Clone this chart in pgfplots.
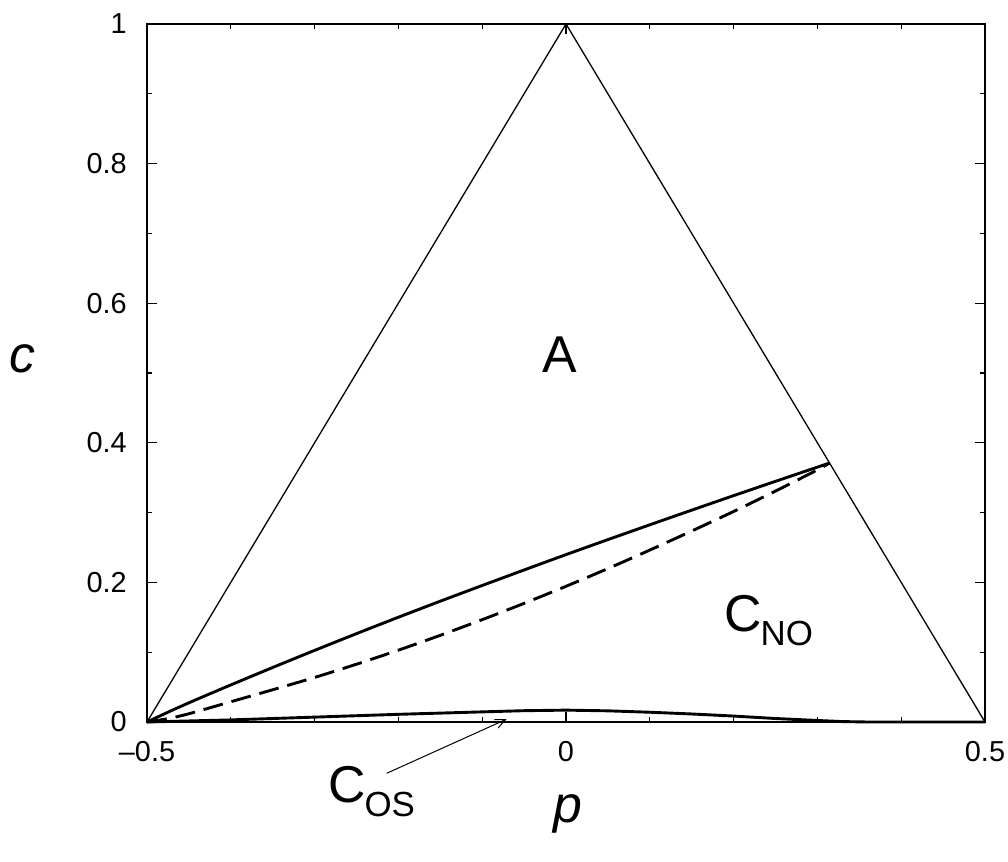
\documentclass[border=0pt]{standalone}
\usepackage{fontspec}
\setmainfont{Liberation Sans}
\usepackage{pgfplots}
\pgfplotsset{compat=1.18}
\usetikzlibrary{arrows.meta}

% phase label with lowered subscript
\newcommand{\phase}[2]{{\fontsize{52}{56}\selectfont #1\kern-1bp\raisebox{-14bp}{\fontsize{35}{38}\selectfont #2}}}

\begin{document}
\begin{tikzpicture}
\begin{axis}[
  at={(0,0)}, anchor=south west,
  scale only axis,
  width=838bp, height=698bp,
  xmin=-0.5, xmax=0.5,
  ymin=0, ymax=1,
  clip=false,
  axis line style={line width=1.3bp},
  tick style={line width=1.1bp, black},
  major tick length=10bp,
  minor tick length=5bp,
  tick align=inside,
  xtick pos=both, ytick pos=both,
  xtick={-0.5,0,0.5},
  xticklabels={\textendash0.5,0,0.5},
  minor xtick={-0.4,-0.3,-0.2,-0.1,0.1,0.2,0.3,0.4},
  ytick={0,0.2,0.4,0.6,0.8,1},
  yticklabels={0,0.2,0.4,0.6,0.8,1},
  minor ytick={0.1,0.3,0.5,0.7,0.9},
  ticklabel style={font=\fontsize{29}{32}\selectfont, inner sep=0pt},
  xticklabel style={yshift=-19bp},
  yticklabel style={xshift=-20bp},
  xlabel={\textit{p}},
  xlabel style={font=\fontsize{52}{56}\selectfont, at={(axis description cs:0.502,0)}, anchor=base, yshift=-100bp, inner sep=0pt},
  ylabel={\textit{c}},
  ylabel style={rotate=-90, font=\fontsize{52}{56}\selectfont, at={(axis description cs:0,0.52)}, anchor=center, xshift=-125bp, inner sep=0pt},
]
% outer triangle
\addplot[line width=1.3bp, line join=round] coordinates {(-0.5,0) (0,1) (0.5,0)};

% solid boundary A / C_NO
\addplot[line width=2.9bp, smooth, tension=0.4] table {
-0.5 0
-0.47 0.0168
-0.44 0.0327
-0.4 0.0531
-0.35 0.0781
-0.3 0.1026
-0.25 0.1266
-0.2 0.1501
-0.15 0.1731
-0.1 0.1956
-0.05 0.2178
0 0.2398
0.05 0.2613
0.1 0.2825
0.15 0.3035
0.2 0.3243
0.25 0.3448
0.3 0.3651
0.3145 0.371
};

% dashed line
\addplot[line width=2.9bp, smooth, tension=0.4, dash pattern=on 20bp off 9bp] table {
-0.5 0
-0.475 0.0048
-0.45 0.0118
-0.4 0.029
-0.35 0.0462
-0.3 0.0638
-0.25 0.0828
-0.2 0.1029
-0.15 0.1242
-0.1 0.1466
-0.05 0.17
0 0.1944
0.05 0.2198
0.1 0.2463
0.15 0.2736
0.2 0.3016
0.25 0.3308
0.3 0.3612
0.3145 0.371
};

% C_OS boundary
\addplot[line width=2.9bp] table {
-0.5 0
-0.45 0.0015
-0.4 0.003
-0.3 0.007
-0.2 0.011
-0.1 0.0145
-0.05 0.0162
0 0.017
0.05 0.016
0.1 0.014
0.15 0.0115
0.2 0.0085
0.25 0.005
0.3 0.0022
0.33 0.0006
0.36 0
0.5 0
};

\node[anchor=base, inner sep=0pt, font=\fontsize{52}{56}\selectfont] at (axis cs:-0.007,0.5) {A};
\node[anchor=base west, inner sep=0pt] at (axis cs:0.1885,0.129) {\phase{C}{NO}};
\node[anchor=base west, inner sep=0pt] at (axis cs:-0.284,-0.116) {\phase{C}{OS}};
\draw[line width=1bp, -{Straight Barb[length=10bp,width=9bp]}] (axis cs:-0.214,-0.0735) -- (axis cs:-0.071,0.004);
\end{axis}
\pgfresetboundingbox
\path[use as bounding box] (-147bp,-140bp) rectangle (861bp,722bp);
\end{tikzpicture}
\end{document}
